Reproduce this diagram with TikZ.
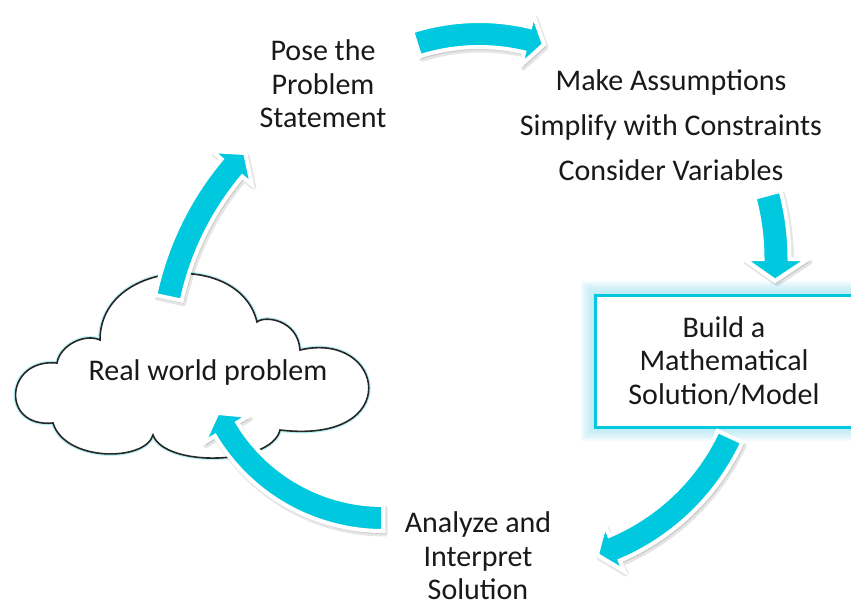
\documentclass[tikz,border=0pt]{standalone}
\usepackage{fontspec}
\setmainfont{Carlito}
\definecolor{acyan}{RGB}{0,200,222}
\definecolor{glowc}{RGB}{150,225,240}
\tikzset{
  arrbody/.style={fill=acyan, draw=white, line width=4pt, line join=miter, miter limit=4},
  arrshadow/.style={fill=black, draw=black, line width=5pt, opacity=0.10, line join=round},
  lbl/.style={font=\fontsize{30}{33.5}\selectfont, align=center, text=black!90, inner sep=0pt},
  cloudline/.style={draw=black!85, line width=1.6pt, fill=white, preaction={draw=acyan!45, line width=4pt, opacity=0.6}},
  boxline/.style={draw=acyan, line width=3pt, fill=white}
}
\newcommand\cyarr[8]{%
  \pgfmathsetmacro\cyRo{#3+#6}\pgfmathsetmacro\cyRi{#3-#6}%
  \pgfmathsetmacro\cyHo{#3+#7}\pgfmathsetmacro\cyHi{#3-#7}%
  \pgfmathsetmacro\cyAt{#5+#8}%
  \foreach \sx/\sy/\sty in {2/3/arrshadow, 0/0/arrbody}{%
    \path[\sty, shift={(#1+\sx,#2+\sy)}] (#4:\cyRo) arc[start angle=#4, end angle=#5, radius=\cyRo]
      -- (#5:\cyHo) -- (\cyAt:#3) -- (#5:\cyHi) -- (#5:\cyRi)
      arc[start angle=#5, end angle=#4, radius=\cyRi] -- cycle;}%
}
\begin{document}
\begin{tikzpicture}[x=1pt, y=-1pt]
\useasboundingbox[fill=white] (0,0) rectangle (851,605);

% cloud
\path[cloudline] (57,363) .. controls (60,345) and (85,333) .. (100,340)
  .. controls (100,260) and (240,250) .. (257,322)
  .. controls (265,315) and (298,320) .. (300,350)
  .. controls (385,330) and (405,445) .. (280,430)
  .. controls (272,465) and (165,468) .. (153,435)
  .. controls (145,462) and (65,462) .. (53,423)
  .. controls (0,428) and (5,358) .. (57,363) -- cycle;
\node[lbl] (real) at (208,372) {Real world problem};

% model box with glow
\foreach \d in {14,12,...,2}{\fill[glowc, opacity=0.12] (595-\d,295-\d) rectangle (870,427+\d);}
\path[boxline] (595,295) rectangle (870,427);
\node[lbl] (build) at (724,361) {Build a\\Mathematical\\Solution/Model};

% texts
\node[lbl] (pose) at (323,84) {Pose the\\Problem\\Statement};
\node[lbl, font=\fontsize{30}{45}\selectfont] (assume) at (671,125) {Make Assumptions\\Simplify with Constraints\\Consider Variables};
\node[lbl] (analyze) at (478,556) {Analyze and\\Interpret\\Solution};

% arrows: cx, cy, R, a1, a2, halfwidth, headhalfwidth, tipangle
\cyarr{461}{360}{299}{-168}{-140}{13.5}{26}{3.8}
\cyarr{479}{242}{208}{-107.6}{-76.6}{13}{26}{4.8}
\cyarr{526}{259}{250}{-15}{0}{13.5}{32}{5}
\cyarr{527}{342}{224}{25}{67}{13.5}{25}{4.8}
\cyarr{383}{335}{183}{90}{149}{13}{26}{5.8}
\end{tikzpicture}
\end{document}
